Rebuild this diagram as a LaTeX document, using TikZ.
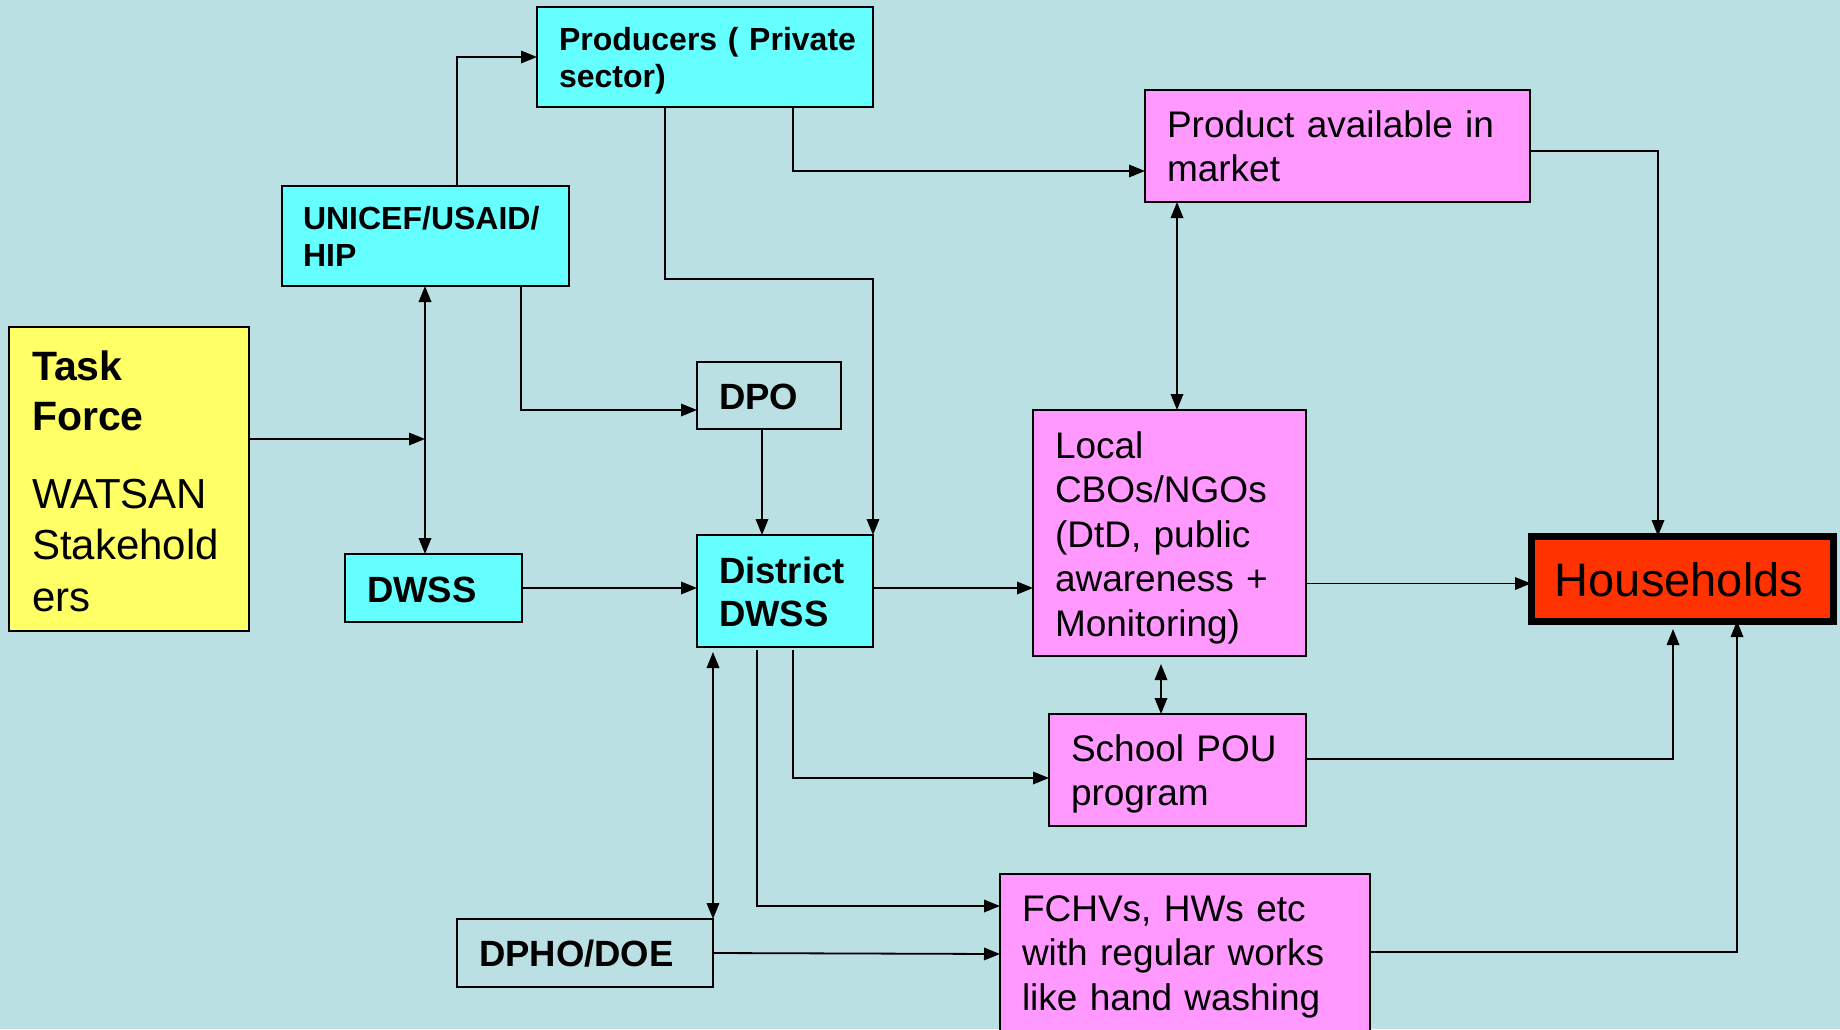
\documentclass[tikz,border=0pt]{standalone}
\usepackage{fontspec}
\setmainfont{Liberation Sans}
\usetikzlibrary{arrows.meta,calc}
\definecolor{bg}{HTML}{BBE0E3}
\definecolor{cyanbox}{HTML}{66FFFF}
\definecolor{pinkbox}{HTML}{FF99FF}
\definecolor{yellowbox}{HTML}{FFFF66}
\definecolor{redbox}{HTML}{FF3300}
\begin{document}
\begin{tikzpicture}[x=1pt,y=-1pt,
  box/.style={draw=black, line width=2.4pt, rectangle, anchor=north west, inner sep=0pt, outer sep=0pt},
  lbl/.style={anchor=base west, inner sep=0pt, outer sep=0pt, align=left, text width=420pt},
  bsm/.style={font=\bfseries\fontsize{32}{37.5}\selectfont},
  bmid/.style={font=\bfseries\fontsize{36.5}{43}\selectfont},
  reg/.style={font=\fontsize{37}{44.5}\selectfont},
  arr/.style={line width=1.8pt, -{Triangle[length=16pt,width=12.5pt]}},
  darr/.style={line width=1.8pt, {Triangle[length=16pt,width=12.5pt]}-{Triangle[length=16pt,width=12.5pt]}}
]
\useasboundingbox (0,0) rectangle (1840,1029);
\fill[bg] (0,0) rectangle (1840,1029);
\clip (0,0) rectangle (1840,1029);

% boxes
\node[box, fill=cyanbox, minimum width=336pt, minimum height=100pt] (prod) at (537,7) {};
\node[box, fill=cyanbox, minimum width=287pt, minimum height=100pt] (unicef) at (282,186) {};
\node[box, fill=yellowbox, minimum width=240pt, minimum height=304pt] (task) at (9,327) {};
\node[box, minimum width=144pt, minimum height=67pt] (dpo) at (697,362) {};
\node[box, fill=cyanbox, minimum width=177pt, minimum height=68pt] (dwss) at (345,554) {};
\node[box, fill=cyanbox, minimum width=176pt, minimum height=112pt] (ddwss) at (697,535) {};
\node[box, minimum width=256pt, minimum height=68pt] (dpho) at (457,919) {};
\node[box, fill=pinkbox, minimum width=385pt, minimum height=112pt] (product) at (1145,90) {};
\node[box, fill=pinkbox, minimum width=273pt, minimum height=246pt] (cbo) at (1033,410) {};
\node[box, fill=pinkbox, minimum width=257pt, minimum height=112pt] (school) at (1049,714) {};
\node[box, fill=pinkbox, minimum width=370pt, minimum height=170pt] (fchv) at (1000,874) {};
\node[box, fill=redbox, line width=7pt, minimum width=302pt, minimum height=85pt] (house) at (1531,536) {};

% texts
\node[lbl, bsm] (prodT) at (559,50) {Producers ( Private\\sector)};
\node[lbl, bsm] (unicefT) at (303,229) {UNICEF/USAID/\\HIP};
\node[lbl] (taskT) at (32,380) {\bfseries\fontsize{41}{50}\selectfont Task\\Force\par\vspace{26.5pt}\mdseries\fontsize{42}{51.5}\selectfont WATSAN\\Stakehold\\ers\par};
\node[lbl, bmid] (dpoT) at (719,409) {DPO};
\node[lbl, bmid] (dwssT) at (367,602) {DWSS};
\node[lbl, bmid] (ddwssT) at (719,583) {District\\DWSS};
\node[lbl, bmid] (dphoT) at (479,966) {DPHO/DOE};
\node[lbl, reg] (productT) at (1167,137) {Product available in\\market};
\node[lbl, reg] (cboT) at (1055,458) {Local\\CBOs/NGOs\\(DtD, public\\awareness +\\Monitoring)};
\node[lbl, reg] (schoolT) at (1071,761) {School POU\\program};
\node[lbl, reg] (fchvT) at (1022,921) {FCHVs, HWs etc\\with regular works\\like hand washing};
\node[anchor=base, inner sep=0pt, font=\fontsize{47}{56}\selectfont] (houseT) at (1679,596) {Households};

% helper coordinates
\coordinate (tj) at (425,439);
\coordinate (hw) at ([yshift=-5pt]house.west);

% connectors
\draw[arr] ([xshift=175pt]unicef.north west) |- (prod.west);
\draw[arr] ([xshift=128pt]prod.south west) -- ++(0,172) -| (ddwss.north east);
\draw[arr] ([xshift=256pt]prod.south west) |- ([yshift=-25pt]product.west);
\draw[arr] ([yshift=-5pt]product.east) -| ([xshift=127pt]house.north west);
\draw[darr] ([xshift=32pt]product.south west) -- ([xshift=144pt]cbo.north west);
\draw[darr] ([xshift=143pt]unicef.south west) -- ([xshift=80pt]dwss.north west);
\draw[arr] (task.east |- tj) -- (tj);
\draw[arr] ([xshift=239pt]unicef.south west) |- ([yshift=-14.5pt]dpo.west);
\draw[arr] ([xshift=65pt]dpo.south west) -- ([xshift=65pt]ddwss.north west);
\draw[arr] (dwss.east) -- (dwss.east -| ddwss.west);
\draw[arr] ([yshift=3pt]ddwss.east) -- ([yshift=3pt]ddwss.east -| cbo.west);
\draw[arr] (cbo.east |- hw) -- (hw);
\draw[darr, shorten <=8pt] ([xshift=128pt]cbo.south west) -- ([xshift=112pt]school.north west);
\draw[arr, shorten >=8pt] ([yshift=11pt]school.east) -| ([xshift=142pt]house.south west);
\draw[arr] ([yshift=7pt]fchv.east) -| ([xshift=206pt]house.south west);
\draw[arr, shorten <=3pt] ([xshift=96pt]ddwss.south west) |- ([yshift=-8pt]school.west);
\draw[arr, shorten <=3pt] ([xshift=60pt]ddwss.south west) |- ([yshift=53pt]fchv.west);
\draw[darr, shorten <=5pt] ([xshift=16pt]ddwss.south west) -- (dpho.north east);
\draw[arr] (dpho.east) -- ([yshift=5pt]fchv.west);
\end{tikzpicture}
\end{document}
